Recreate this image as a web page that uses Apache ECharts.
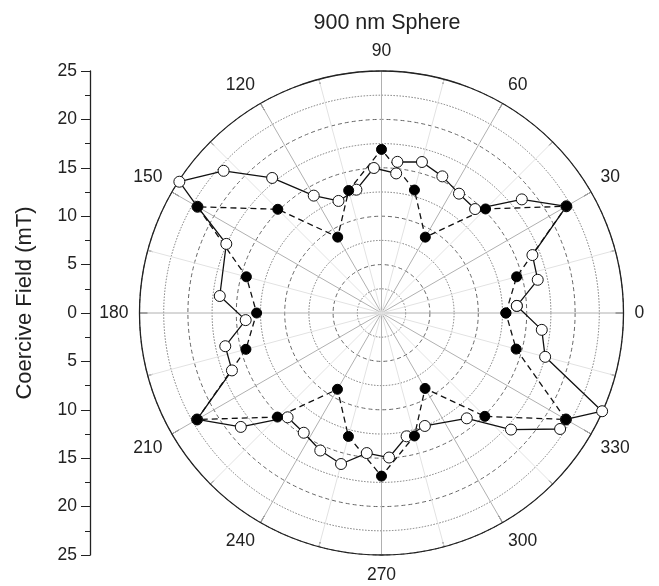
<!DOCTYPE html>
<html>
<head>
<meta charset="utf-8">
<title>900 nm Sphere</title>
<script src="https://cdn.jsdelivr.net/npm/echarts@6/dist/echarts.min.js"></script>
<style>
  html, body { margin: 0; padding: 0; background: #fff; }
  #chart { width: 659px; height: 586px; }
</style>
</head>
<body>
<div id="chart"></div>
<script>
// filled circles, dashed line (angle in degrees, field in mT)
const filledAngle = [0, 15, 30, 45, 60, 75, 90, 105, 120, 135, 150, 165, 180, 195, 210, 225, 240, 255, 270, 285, 300, 315, 330, 345, 360]
const filledField = [12.85, 14.45, 22.05, 15.2, 9.05, 13.15, 16.9, 13.1, 9.05, 15.15, 21.95, 14.45, 12.9, 14.5, 22.0, 15.2, 9.1, 13.2, 16.85, 13.15, 9.0, 15.1, 22.0, 14.4, 12.85]

// open circles, solid line
const openAngle = [3, 12, 21, 30, 39, 48, 57, 66, 75, 84, 84, 93, 101.5, 111, 120, 129, 138, 147, 150, 156, 174, 183, 192, 201, 210, 219, 228, 237, 246, 255, 264, 273, 281.5, 291, 309, 318, 327, 330, 336, 345, 354, 363]
const openField = [14.0, 16.5, 16.7, 22.05, 18.65, 14.45, 14.7, 15.45, 16.15, 15.7, 14.5, 15.0, 13.0, 12.4, 14.0, 17.95, 21.95, 24.9, 21.95, 17.55, 16.8, 14.05, 16.5, 16.55, 22.0, 18.7, 14.5, 14.75, 15.55, 16.15, 14.55, 14.95, 13.0, 12.5, 14.0, 18.0, 22.0, 22.0, 24.95, 17.5, 16.65, 14.0]

const font = 'Liberation Sans'
const textColor = '#222'

const chart = echarts.init(document.getElementById('chart'))
chart.setOption({
  animation: false,
  title: {
    text: '900 nm Sphere',
    left: 382,
    textAlign: 'center',
    top: 7,
    textStyle: { fontFamily: font, fontSize: 21.5, fontWeight: 'normal', color: textColor }
  },
  polar: {
    center: [381.5, 313],
    radius: 242
  },
  angleAxis: {
    type: 'value',
    min: 0,
    max: 360,
    interval: 30,
    startAngle: 0,
    clockwise: false,
    axisLine: { lineStyle: { color: textColor, width: 1.3 } },
    axisTick: { inside: true, length: 8, lineStyle: { color: textColor } },
    minorTick: { show: true, splitNumber: 2, length: 5, lineStyle: { color: textColor } },
    axisLabel: {
      margin: 11,
      fontFamily: font,
      fontSize: 17.5,
      color: textColor,
      formatter: v => (v === 360 ? '' : String(v))
    },
    splitLine: { lineStyle: { color: '#b0b0b0', width: 1 } },
    minorSplitLine: { show: true, lineStyle: { color: '#e2e2e2', width: 1 } }
  },
  radiusAxis: {
    min: 0,
    max: 25,
    interval: 5,
    axisLine: { show: false },
    axisTick: { show: false },
    axisLabel: { show: false },
    splitLine: { lineStyle: { color: '#666', width: 1, type: [4, 3] } },
    minorTick: { show: false, splitNumber: 2 },
    minorSplitLine: { show: true, lineStyle: { color: '#777', width: 1, type: [1.5, 1.5] } }
  },
  grid: {
    left: 90,
    top: 71,
    width: 1,
    height: 484
  },
  xAxis: { type: 'value', show: false },
  yAxis: {
    type: 'value',
    min: -25,
    max: 25,
    interval: 5,
    name: 'Coercive Field (mT)',
    nameLocation: 'middle',
    nameGap: 54,
    nameTextStyle: { fontFamily: font, fontSize: 22, color: textColor, padding: [0, 0, 0, 20] },
    axisLine: { show: true, lineStyle: { color: textColor, width: 1.3 } },
    axisTick: { show: true, length: 9, lineStyle: { color: textColor } },
    minorTick: { show: true, splitNumber: 2, length: 5, lineStyle: { color: textColor } },
    splitLine: { show: false },
    axisLabel: {
      margin: 13,
      fontFamily: font,
      fontSize: 17.5,
      color: textColor,
      formatter: v => String(Math.abs(v))
    }
  },
  series: [
    {
      name: 'open',
      type: 'line',
      coordinateSystem: 'polar',
      data: openAngle.map((a, i) => [openField[i], a]),
      symbol: 'circle',
      symbolSize: 11,
      itemStyle: { color: '#fff', borderColor: '#111', borderWidth: 1 },
      lineStyle: { color: '#111', width: 1.3, type: 'solid' }
    },
    {
      name: 'filled',
      type: 'line',
      coordinateSystem: 'polar',
      data: filledAngle.map((a, i) => [filledField[i], a]),
      symbol: 'circle',
      symbolSize: 10,
      itemStyle: { color: '#000', borderColor: '#000', borderWidth: 1 },
      lineStyle: { color: '#111', width: 1.3, type: [6, 4] }
    }
  ]
})
</script>
</body>
</html>
